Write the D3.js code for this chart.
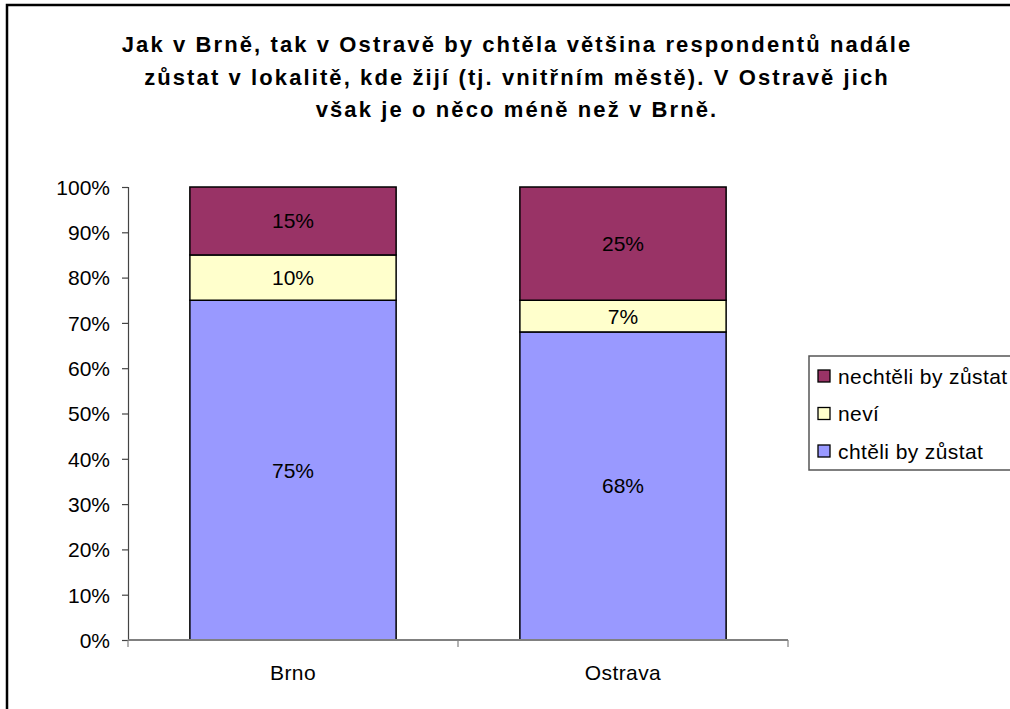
<!DOCTYPE html>
<html><head><meta charset="utf-8">
<script src="https://cdn.jsdelivr.net/npm/d3@7"></script>
<style>body{margin:0;background:#fff}svg{display:block}</style>
</head><body>
<script>
const categories = ["Brno", "Ostrava"];
const seriesNames = ["chtěli by zůstat", "neví", "nechtěli by zůstat"];
const chteli = [75, 68];
const nevi = [10, 7];
const nechteli = [15, 25];
const colors = ["#9999FF", "#FFFFCC", "#993366"];
const yTicks = [0,10,20,30,40,50,60,70,80,90,100];
const titleLines = ["Jak v Brně, tak v Ostravě by chtěla většina respondentů nadále",
  "zůstat v lokalitě, kde žijí (tj. vnitřním městě). V Ostravě jich",
  "však je o něco méně než v Brně."];

(function(){
const W = 1010, H = 709;
const svg = d3.select("body").append("svg").attr("width", W).attr("height", H);
const font = "'Liberation Sans', Arial, sans-serif";

// outer border
svg.append("rect").attr("x", 7).attr("y", 5).attr("width", W + 20).attr("height", H + 20)
  .attr("fill", "none").attr("stroke", "#000").attr("stroke-width", 2.5);

// title
svg.append("g").selectAll("text").data(titleLines).join("text")
  .attr("x", 517).attr("y", (d, i) => 52 + i * 32.5)
  .attr("text-anchor", "middle").attr("font-family", font).attr("font-weight", "bold")
  .attr("font-size", 22).attr("letter-spacing", 2.1).attr("fill", "#000").text(d => d);

const pl = 128, pr = 788, pt = 187, pb = 640;
const x = d3.scaleBand().domain(categories).range([pl, pr]).paddingInner(0.375).paddingOuter(0.1875);
const y = d3.scaleLinear().domain([0, 100]).range([pb, pt]);

const rows = categories.map((c, i) => ({cat: c, s0: chteli[i], s1: nevi[i], s2: nechteli[i]}));
const stack = d3.stack().keys(["s0", "s1", "s2"])(rows);

const g = svg.append("g");
stack.forEach((layer, li) => {
  g.append("g").selectAll("rect").data(layer).join("rect")
    .attr("x", d => x(d.data.cat)).attr("width", x.bandwidth())
    .attr("y", d => y(d[1])).attr("height", d => y(d[0]) - y(d[1]))
    .attr("fill", colors[li]).attr("stroke", "#000").attr("stroke-width", 1.5);
  g.append("g").selectAll("text").data(layer).join("text")
    .attr("x", d => x(d.data.cat) + x.bandwidth() / 2)
    .attr("y", d => (y(d[0]) + y(d[1])) / 2 + 7.5)
    .attr("text-anchor", "middle").attr("font-family", font).attr("font-size", 21)
    .attr("fill", "#000").text(d => (d[1] - d[0]) + "%");
});

// y axis
const yAxis = svg.append("g").attr("transform", `translate(${pl},0)`)
  .call(d3.axisLeft(y).tickValues(yTicks).tickFormat(d => d + "%").tickSize(6).tickPadding(12));
yAxis.select(".domain").attr("stroke", "#444").attr("stroke-width", 1.2);
yAxis.selectAll(".tick line").attr("stroke", "#444").attr("stroke-width", 1.2);
yAxis.selectAll("text").attr("font-family", font).attr("font-size", 21).attr("fill", "#000").attr("dy", "0.35em");

// x axis
const xAxisG = svg.append("g").attr("transform", `translate(0,${pb})`);
xAxisG.append("line").attr("x1", pl).attr("x2", pr).attr("stroke", "#808080").attr("stroke-width", 2);
const bounds = [pl, (pl + pr) / 2, pr];
xAxisG.selectAll("line.t").data(bounds).join("line").attr("class", "t")
  .attr("x1", d => d).attr("x2", d => d).attr("y1", 0).attr("y2", 7).attr("stroke", "#808080").attr("stroke-width", 1.2);
xAxisG.selectAll("text").data(categories).join("text")
  .attr("x", d => x(d) + x.bandwidth() / 2).attr("y", 40)
  .attr("text-anchor", "middle").attr("font-family", font).attr("font-size", 21)
  .attr("letter-spacing", 0.4).attr("fill", "#000").text(d => d);

// legend
const lg = svg.append("g");
lg.append("rect").attr("x", 809).attr("y", 356).attr("width", 260).attr("height", 114)
  .attr("fill", "#fff").attr("stroke", "#555").attr("stroke-width", 1.5);
const legendItems = [2, 1, 0];
legendItems.forEach((si, i) => {
  const cy = 376 + i * 37.5;
  lg.append("rect").attr("x", 818).attr("y", cy - 6).attr("width", 12).attr("height", 12)
    .attr("fill", colors[si]).attr("stroke", "#000").attr("stroke-width", 1.3);
  lg.append("text").attr("x", 838).attr("y", cy + 7.5).attr("font-family", font).attr("font-size", 21)
    .attr("letter-spacing", 0.4).attr("fill", "#000").text(seriesNames[si]);
});
})();
</script>
</body></html>
